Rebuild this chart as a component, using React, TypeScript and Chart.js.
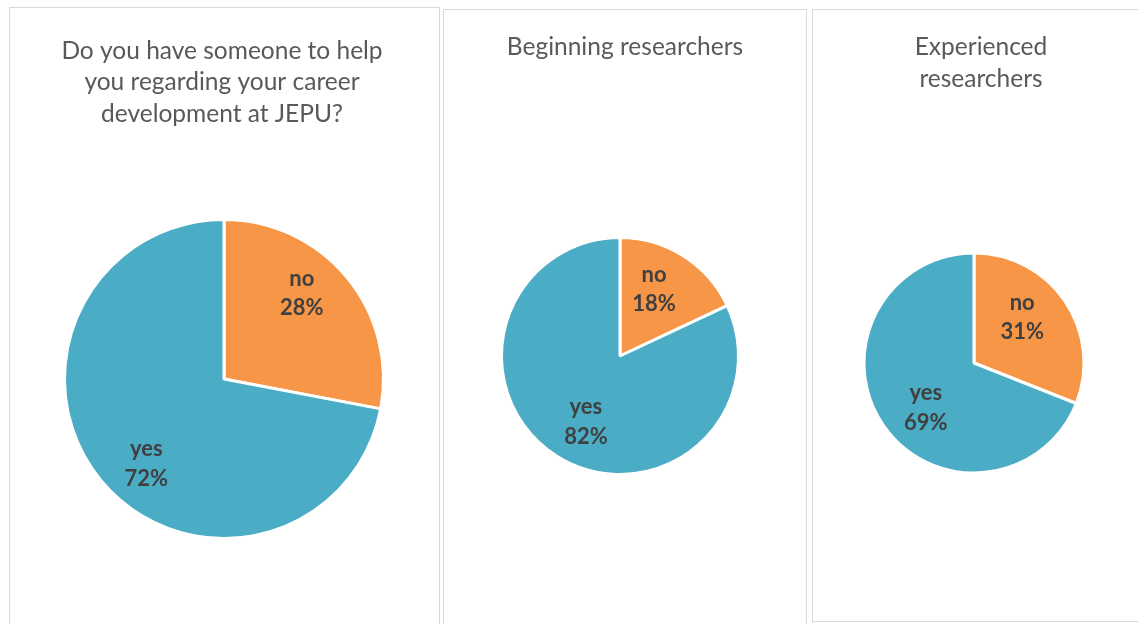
import React, { useEffect, useRef } from "react";
import { Chart, registerables } from "chart.js";

Chart.register(...registerables);

// ---- data ----
const categories = ["no", "yes"];
const overallValues = [28, 72];
const beginningValues = [18, 82];
const experiencedValues = [31, 69];
const overallTitle = ["Do you have someone to help", "you regarding your career", "development at JEPU?"];
const beginningTitle = ["Beginning researchers"];
const experiencedTitle = ["Experienced", "researchers"];

// ---- styles ----
const sliceColors = ["#F79646", "#4BACC6"];
const TITLE_FONT = "normal 24.5px Lato";
const TITLE_COLOR = "#595959";
const LABEL_FONT = "bold 22px Lato";
const LABEL_COLOR = "#404040";
const BORDER_W = 3;

type Spec = {
  id: string;
  values: number[];
  title: string[];
  box: { left: number; top: number; width: number; height: number };
  pie: { cx: number; cy: number; r: number };
  titleX: number;
  titleBaseline: number;
  titleLineHeight: number;
};

const specs: Spec[] = [
  {
    id: "overall",
    values: overallValues,
    title: overallTitle,
    box: { left: 9, top: 7, width: 431, height: 700 },
    pie: { cx: 224, cy: 379, r: 158 },
    titleX: 222,
    titleBaseline: 58.5,
    titleLineHeight: 31.5,
  },
  {
    id: "beginning",
    values: beginningValues,
    title: beginningTitle,
    box: { left: 443, top: 9, width: 364, height: 700 },
    pie: { cx: 620, cy: 356, r: 117 },
    titleX: 625,
    titleBaseline: 55,
    titleLineHeight: 31.5,
  },
  {
    id: "experienced",
    values: experiencedValues,
    title: experiencedTitle,
    box: { left: 812, top: 9, width: 360, height: 613 },
    pie: { cx: 974, cy: 363, r: 108.5 },
    titleX: 981,
    titleBaseline: 55,
    titleLineHeight: 31.5,
  },
];

const titlePlugin = {
  id: "panelTitle",
  afterDraw(chart: any, _args: any, opts: any) {
    const ctx = chart.ctx;
    ctx.save();
    ctx.font = TITLE_FONT;
    ctx.fillStyle = TITLE_COLOR;
    ctx.textAlign = "center";
    ctx.textBaseline = "alphabetic";
    (opts.lines as string[]).forEach((line, i) => {
      ctx.fillText(line, opts.x, opts.y + i * opts.lineHeight);
    });
    ctx.restore();
  },
};

const labelPlugin = {
  id: "sliceLabels",
  afterDatasetsDraw(chart: any) {
    const meta = chart.getDatasetMeta(0);
    const data = chart.data.datasets[0].data as number[];
    const labels = chart.data.labels as string[];
    const total = data.reduce((a, b) => a + b, 0);
    const ctx = chart.ctx;
    ctx.save();
    ctx.font = LABEL_FONT;
    ctx.fillStyle = LABEL_COLOR;
    ctx.textAlign = "center";
    ctx.textBaseline = "alphabetic";
    meta.data.forEach((arc: any, i: number) => {
      const { x, y, startAngle, endAngle, outerRadius } = arc.getProps(
        ["x", "y", "startAngle", "endAngle", "outerRadius"],
        true
      );
      const mid = (startAngle + endAngle) / 2;
      let phi = mid + Math.PI / 2; // clockwise from top
      const axis = Math.round(phi / Math.PI) * Math.PI;
      phi = axis + (phi - axis) * 0.84;
      const d = outerRadius - BORDER_W / 2 - 42.5;
      const lx = x + d * Math.sin(phi);
      const ly = y - d * Math.cos(phi);
      const pct = Math.round((data[i] / total) * 100) + "%";
      ctx.fillText(labels[i], lx, ly - 8);
      ctx.fillText(pct, lx, ly + 21.5);
    });
    ctx.restore();
  },
};

function Panel({ spec }: { spec: Spec }) {
  const ref = useRef<HTMLCanvasElement | null>(null);
  const ox = spec.box.left + 1;
  const oy = spec.box.top + 1;
  const W = Math.min(spec.box.width - 2, 1138 - ox);
  const H = Math.min(spec.box.height - 2, 624 - oy);

  useEffect(() => {
    if (!ref.current) return;
    const cx = spec.pie.cx - ox;
    const cy = spec.pie.cy - oy;
    const R0 = spec.pie.r + 12;
    const chart = new Chart(ref.current, {
      type: "pie",
      data: {
        labels: categories,
        datasets: [
          {
            data: spec.values,
            backgroundColor: sliceColors,
            borderColor: "#ffffff",
            borderWidth: BORDER_W,
            radius: spec.pie.r + BORDER_W / 2,
            hoverOffset: 0,
          } as any,
        ],
      },
      options: {
        responsive: false,
        maintainAspectRatio: false,
        animation: false,
        events: [],
        layout: {
          padding: {
            left: cx - R0,
            right: W - cx - R0,
            top: cy - R0,
            bottom: H - cy - R0,
          },
        },
        plugins: {
          legend: { display: false },
          tooltip: { enabled: false },
          title: { display: false },
          panelTitle: {
            lines: spec.title,
            x: spec.titleX - ox,
            y: spec.titleBaseline - oy,
            lineHeight: spec.titleLineHeight,
          },
        } as any,
      },
      plugins: [titlePlugin, labelPlugin],
    });
    return () => chart.destroy();
  }, []);

  return (
    <div
      style={{
        position: "absolute",
        left: spec.box.left,
        top: spec.box.top,
        width: spec.box.width,
        height: spec.box.height,
        boxSizing: "border-box",
        border: "1px solid #d9d9d9",
        background: "#ffffff",
        overflow: "hidden",
      }}
    >
      <canvas
        ref={ref}
        width={W}
        height={H}
        style={{ position: "absolute", left: 0, top: 0, width: W, height: H, display: "block" }}
      />
    </div>
  );
}

export default function App() {
  return (
    <div
      style={{
        position: "absolute",
        left: 0,
        top: 0,
        width: 1138,
        height: 624,
        overflow: "hidden",
        background: "#ffffff",
      }}
    >
      {specs.map((s) => (
        <Panel key={s.id} spec={s} />
      ))}
    </div>
  );
}
